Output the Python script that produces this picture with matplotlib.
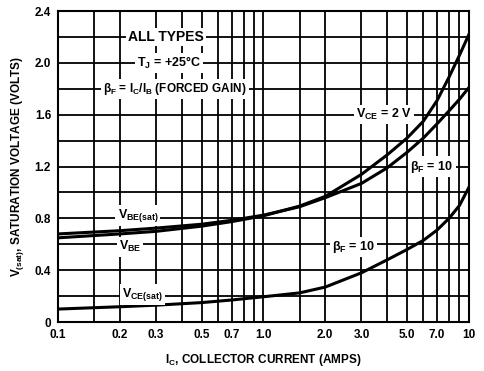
import matplotlib
matplotlib.use("Agg")
import matplotlib.pyplot as plt

plt.rcParams['font.family'] = ['Liberation Sans', 'DejaVu Sans']
plt.rcParams['font.weight'] = 'bold'
plt.rcParams['mathtext.fontset'] = 'custom'
plt.rcParams['mathtext.rm'] = 'Liberation Sans:bold'
plt.rcParams['mathtext.it'] = 'Liberation Sans:italic:bold'
plt.rcParams['mathtext.bf'] = 'Liberation Sans:bold'
plt.rcParams['mathtext.default'] = 'rm'

# collector current (A)
ic = [0.1, 0.2, 0.3, 0.5, 0.7, 1.0, 1.5, 2.0, 3.0, 4.0, 5.0, 6.0, 7.0, 8.0, 9.0, 10.0]
# VBE(sat), beta_F = 10
vbe_sat = [0.68, 0.705, 0.725, 0.755, 0.785, 0.825, 0.89, 0.96, 1.07, 1.19, 1.31, 1.42, 1.53, 1.63, 1.72, 1.81]
# VBE at VCE = 2 V
vbe = [0.65, 0.68, 0.70, 0.74, 0.775, 0.82, 0.895, 0.97, 1.14, 1.29, 1.42, 1.55, 1.71, 1.89, 2.06, 2.22]
# VCE(sat), beta_F = 10
vce_sat = [0.10, 0.118, 0.13, 0.15, 0.17, 0.195, 0.225, 0.27, 0.38, 0.48, 0.56, 0.63, 0.71, 0.80, 0.90, 1.04]

xticks = [0.1, 0.2, 0.3, 0.5, 0.7, 1.0, 2.0, 3.0, 5.0, 7.0, 10]
xticklabels = ['0.1', '0.2', '0.3', '0.5', '0.7', '1.0', '2.0', '3.0', '5.0', '7.0', '10']
xminor = [0.15, 0.4, 0.6, 0.8, 0.9, 1.5, 4.0, 6.0, 8.0, 9.0]
yticks = [0, 0.4, 0.8, 1.2, 1.6, 2.0, 2.4]
yticklabels = ['0', '0.4', '0.8', '1.2', '1.6', '2.0', '2.4']
yminor = [0.2, 0.6, 1.0, 1.4, 1.8, 2.2]

fig = plt.figure(figsize=(4.84, 3.71), dpi=100)
ax = fig.add_axes([0.1198, 0.132, 0.849, 0.838])

ax.set_xscale('log')
ax.set_xlim(0.1, 10)
ax.set_ylim(0, 2.4)
ax.set_xticks(xticks)
ax.set_xticklabels(xticklabels)
ax.set_xticks(xminor, minor=True)
ax.set_xticklabels([], minor=True)
ax.set_yticks(yticks)
ax.set_yticklabels(yticklabels)
ax.set_yticks(yminor, minor=True)
ax.tick_params(which='both', length=0, labelsize=8.5, pad=5)
ax.grid(which='both', color='black', linewidth=1.3)
for s in ax.spines.values():
    s.set_linewidth(1.5)

ax.plot(ic, vbe_sat, color='black', linewidth=2.2, zorder=3)
ax.plot(ic, vbe, color='black', linewidth=2.2, zorder=3)
ax.plot(ic, vce_sat, color='black', linewidth=2.2, zorder=3)

box = dict(facecolor='white', edgecolor='none', pad=1.5)
def label(x, y, s, size=9):
    ax.text(x, y, s, ha='center', va='center', fontsize=size, fontweight='bold',
            bbox=box, zorder=4)

label(0.335, 2.2, 'ALL TYPES', size=10)
label(0.347, 2.0, r'T$_J$ = +25°C')
label(0.371, 1.8, r'$\beta_F$ = I$_C$/I$_B$ (FORCED GAIN)', size=8.5)
label(3.86, 1.6, r'V$_{CE}$ = 2 V')
label(6.6, 1.2, r'$\beta_F$ = 10')
label(0.245, 0.82, r'V$_{BE(sat)}$')
label(0.224, 0.58, r'V$_{BE}$')
label(2.75, 0.58, r'$\beta_F$ = 10')
label(0.257, 0.21, r'V$_{CE(sat)}$')

ax.set_xlabel(r'I$_C$, COLLECTOR CURRENT (AMPS)', fontsize=8.5, fontweight='bold', labelpad=8)
ax.set_ylabel(r'V$_{(sat)}$, SATURATION VOLTAGE (VOLTS)', fontsize=8.5, fontweight='bold', labelpad=6)

fig.savefig('out.png', dpi=100)
